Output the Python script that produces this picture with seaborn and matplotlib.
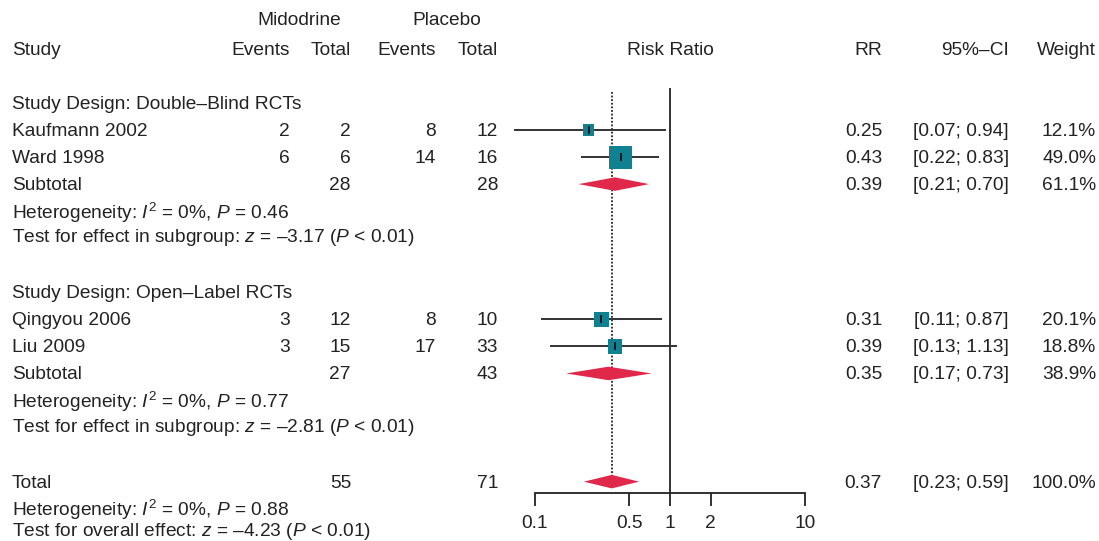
import numpy as np
import pandas as pd
import matplotlib
matplotlib.use("Agg")
import matplotlib.pyplot as plt
import seaborn as sns

# ---- data ----
studies = ["Kaufmann 2002", "Ward 1998", "Qingyou 2006", "Liu 2009"]
mid_events = [2, 6, 3, 3]
mid_total = [2, 6, 12, 15]
pla_events = [8, 14, 8, 17]
pla_total = [12, 16, 10, 33]
study_rr = [0.25, 0.43, 0.31, 0.39]
study_lo = [0.07, 0.22, 0.11, 0.13]
study_hi = [0.94, 0.83, 0.87, 1.13]
study_weight = [12.1, 49.0, 20.1, 18.8]
study_rows = [4, 5, 11, 12]

pooled_labels = ["Subtotal", "Subtotal", "Total"]
pooled_mid_total = [28, 27, 55]
pooled_pla_total = [28, 43, 71]
pooled_rr = [0.39, 0.35, 0.37]
pooled_lo = [0.21, 0.17, 0.23]
pooled_hi = [0.70, 0.73, 0.59]
pooled_weight = [61.1, 38.9, 100.0]
pooled_rows = [6, 13, 17]

group_titles = ["Study Design: Double\u2013Blind RCTs", "Study Design: Open\u2013Label RCTs"]
group_rows = [3, 10]

het_i2 = ["0%", "0%", "0%"]
het_p = ["0.46", "0.77", "0.88"]
z_vals = ["\u20133.17", "\u20132.81", "\u20134.23"]
z_labels = ["Test for effect in subgroup", "Test for effect in subgroup", "Test for overall effect"]
het_rows = [7, 14, 18]
z_rows = [7.93, 14.93, 18.8]

ticks = [0.1, 0.5, 1, 2, 10]
tick_labels = ["0.1", "0.5", "1", "2", "10"]

# ---- styling ----
sns.set_theme(style="white")
plt.rcParams['font.family'] = ['Liberation Sans', 'DejaVu Sans']
plt.rcParams['mathtext.fontset'] = 'custom'
plt.rcParams['mathtext.rm'] = 'Liberation Sans'
plt.rcParams['mathtext.it'] = 'Liberation Sans:italic'

TEAL = '#0F8190'
RED = '#E0284A'
TXT = '#222222'
FS = 13.8

W, H = 1099, 541
ROW_PX = 27.05
ROW0_PX = 21.8
ymax = (H - ROW0_PX) / ROW_PX
ymin = -ROW0_PX / ROW_PX

fig = plt.figure(figsize=(W / 100, H / 100), dpi=100)

# text layer in pixel x, row y
tx = fig.add_axes([0, 0, 1, 1])
tx.set_xlim(0, W)
tx.set_ylim(ymax, ymin)
tx.axis('off')

def put(x, r, s, ha='left'):
    # small nudge so the glyphs sit on the row centre like the marks
    tx.text(x, r + 0.05, s, ha=ha, va='center', fontsize=FS, color=TXT)

# column x positions (right edges of numeric columns)
X_LABEL = 12
X_ME, X_MT, X_PE, X_PT = 290, 351, 436, 498
X_RR, X_CI, X_W = 882, 1009, 1096

put(299, -0.1, "Midodrine", 'center')
put(447, -0.1, "Placebo", 'center')
put(X_LABEL, 1, "Study")
put(X_ME, 1, "Events", 'right')
put(X_MT, 1, "Total", 'right')
put(X_PE, 1, "Events", 'right')
put(X_PT, 1, "Total", 'right')
put(670, 1, "Risk Ratio", 'center')
put(X_RR, 1, "RR", 'right')
put(X_CI, 1, "95%\u2013CI", 'right')
put(X_W, 1, "Weight", 'right')

for title, r in zip(group_titles, group_rows):
    put(X_LABEL, r, title)

for i, r in enumerate(study_rows):
    put(X_LABEL, r, studies[i])
    put(X_ME, r, str(mid_events[i]), 'right')
    put(X_MT, r, str(mid_total[i]), 'right')
    put(X_PE, r, str(pla_events[i]), 'right')
    put(X_PT, r, str(pla_total[i]), 'right')
    put(X_RR, r, f"{study_rr[i]:.2f}", 'right')
    put(X_CI, r, f"[{study_lo[i]:.2f}; {study_hi[i]:.2f}]", 'right')
    put(X_W, r, f"{study_weight[i]:.1f}%", 'right')

for i, r in enumerate(pooled_rows):
    put(X_LABEL, r, pooled_labels[i])
    put(X_MT, r, str(pooled_mid_total[i]), 'right')
    put(X_PT, r, str(pooled_pla_total[i]), 'right')
    put(X_RR, r, f"{pooled_rr[i]:.2f}", 'right')
    put(X_CI, r, f"[{pooled_lo[i]:.2f}; {pooled_hi[i]:.2f}]", 'right')
    put(X_W, r, f"{pooled_weight[i]:.1f}%", 'right')

for i in range(len(het_rows)):
    put(X_LABEL, het_rows[i], f"Heterogeneity: $\\mathit{{I}}^2$ = {het_i2[i]}, $\\mathit{{P}}$ = {het_p[i]}")
    put(X_LABEL, z_rows[i], f"{z_labels[i]}: $\\mathit{{z}}$ = {z_vals[i]} ($\\mathit{{P}}$ < 0.01)")

# forest layer: log x between 0.1 and 10
ax = fig.add_axes([535 / W, 0, 270 / W, 1])
ax.set_xscale('log')
ax.set_xlim(0.1, 10)
ax.set_ylim(ymax, ymin)
ax.patch.set_alpha(0)
for side in ['top', 'left', 'right']:
    ax.spines[side].set_visible(False)
axis_row = 17.42
ax.spines['bottom'].set_position(('data', axis_row))
ax.spines['bottom'].set_color('#222222')
ax.spines['bottom'].set_linewidth(1.3)
ax.set_xticks(ticks)
ax.set_xticklabels(tick_labels)
ax.xaxis.set_minor_locator(matplotlib.ticker.NullLocator())
ax.tick_params(axis='x', direction='out', length=9.5, width=1.3, color='#222222',
               labelsize=FS, labelcolor=TXT, pad=6, bottom=True)
ax.set_yticks([])
ax.grid(False)

# reference line at 1 and dotted pooled estimate
ax.vlines(1, 2.44, axis_row, color='#222222', lw=1.3, clip_on=False)
ax.vlines(pooled_rr[2], 2.6, 17.2, color='#222222', lw=1.3, linestyles=(0, (1, 1)), clip_on=False)

# study CI lines
ax.hlines(study_rows, study_lo, study_hi, color='#333333', lw=1.4, clip_on=False, zorder=2)

# weighted squares
df = pd.DataFrame({"rr": study_rr, "row": study_rows, "w": study_weight})
side_pt = 3.29 * np.sqrt(df["w"].to_numpy()) * 0.72
sns.scatterplot(data=df, x="rr", y="row", marker='s', color=TEAL, s=side_pt ** 2,
                linewidth=0, ax=ax, zorder=3, clip_on=False, legend=False)
ax.scatter(study_rr, study_rows, marker='|', s=30, color='#111111', linewidths=1.3, zorder=4)

# pooled diamonds
half_h = 0.25
for r, est, lo, hi in zip(pooled_rows, pooled_rr, pooled_lo, pooled_hi):
    ax.fill([lo, est, hi, est], [r, r - half_h, r, r + half_h], color=RED, lw=0, zorder=3)

ax.set_xlabel("")
ax.set_ylabel("")

fig.savefig("out.png", dpi=100)
